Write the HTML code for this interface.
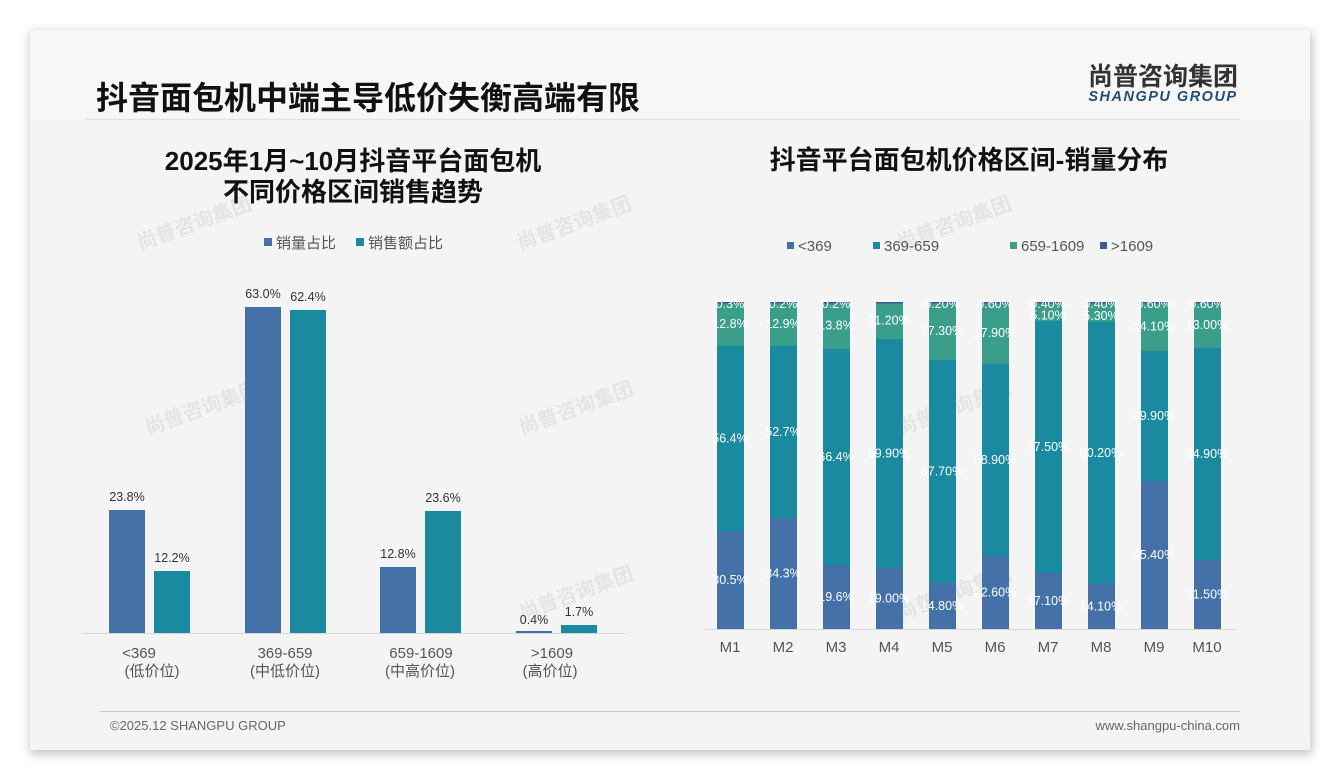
<!DOCTYPE html>
<html><head><meta charset="utf-8"><style>
body{margin:0;background:#fff;width:1340px;height:780px;overflow:hidden}
svg{display:block}
text{font-family:"Liberation Sans","Noto Sans CJK SC",sans-serif}
</style></head><body>
<svg width="1340" height="780" viewBox="0 0 1340 780" xmlns="http://www.w3.org/2000/svg">
<defs><filter id="sh" x="-5%" y="-5%" width="110%" height="110%"><feGaussianBlur stdDeviation="5"/></filter></defs>
<rect x="30" y="32" width="1282" height="722" fill="#999" opacity="0.6" filter="url(#sh)"/>
<rect x="30" y="30" width="1280" height="720" fill="#f4f4f4"/>
<rect x="30" y="30" width="1280" height="90" fill="#f7f7f7"/>
<line x1="85" y1="119.5" x2="1240" y2="119.5" stroke="#e2e2e2" stroke-width="1.5"/>
<text x="96" y="109" font-size="32" font-weight="bold" fill="#111">抖音面包机中端主导低价失衡高端有限</text>
<text x="1163" y="85" font-size="25" font-weight="bold" fill="#333" text-anchor="middle">尚普咨询集团</text>
<text x="1163" y="101" font-size="14.5" font-weight="bold" font-style="italic" fill="#1f4e79" text-anchor="middle" letter-spacing="1.5">SHANGPU GROUP</text>

<g fill="#e4e4e4" font-size="20" font-weight="bold">
<text transform="translate(140,250) rotate(-20)">尚普咨询集团</text>
<text transform="translate(520,250) rotate(-20)">尚普咨询集团</text>
<text transform="translate(900,250) rotate(-20)">尚普咨询集团</text>
<text transform="translate(148,435) rotate(-20)">尚普咨询集团</text>
<text transform="translate(522,435) rotate(-20)">尚普咨询集团</text>
<text transform="translate(900,435) rotate(-20)">尚普咨询集团</text>
<text transform="translate(522,620) rotate(-20)">尚普咨询集团</text>
<text transform="translate(900,620) rotate(-20)">尚普咨询集团</text>
</g>

<text x="353" y="170" font-size="26" font-weight="bold" fill="#111" text-anchor="middle">2025年1月~10月抖音平台面包机</text>
<text x="353" y="201" font-size="26" font-weight="bold" fill="#111" text-anchor="middle">不同价格区间销售趋势</text>
<rect x="264" y="238" width="8" height="8" fill="#4472a8"/>
<text x="276" y="248" font-size="15" fill="#555">销量占比</text>
<rect x="356" y="238" width="8" height="8" fill="#1a8aa0"/>
<text x="368" y="248" font-size="15" fill="#555">销售额占比</text>

<line x1="82" y1="633.5" x2="625" y2="633.5" stroke="#d6d6d6"/>
<g fill="#4472a8">
<rect x="109" y="510" width="36" height="123"/>
<rect x="245" y="307" width="36" height="326"/>
<rect x="380" y="567" width="36" height="66"/>
<rect x="516" y="631" width="36" height="2"/>
</g>
<g fill="#1a8aa0">
<rect x="154" y="571" width="36" height="62"/>
<rect x="290" y="310" width="36" height="323"/>
<rect x="425" y="511" width="36" height="122"/>
<rect x="561" y="625" width="36" height="8"/>
</g>
<g font-size="12.5" fill="#333" text-anchor="middle">
<text x="127" y="501">23.8%</text><text x="172" y="562">12.2%</text>
<text x="263" y="298">63.0%</text><text x="308" y="301">62.4%</text>
<text x="398" y="558">12.8%</text><text x="443" y="502">23.6%</text>
<text x="534" y="624">0.4%</text><text x="579" y="616">1.7%</text>
</g>
<g font-size="15" fill="#555" text-anchor="middle">
<text x="139" y="658">&lt;369</text><text x="152" y="676">(低价位)</text>
<text x="285" y="658">369-659</text><text x="285" y="676">(中低价位)</text>
<text x="421" y="658">659-1609</text><text x="420" y="676">(中高价位)</text>
<text x="552" y="658">&gt;1609</text><text x="550" y="676">(高价位)</text>
</g>

<text x="969" y="169" font-size="26" font-weight="bold" fill="#111" text-anchor="middle">抖音平台面包机价格区间-销量分布</text>
<g font-size="15" fill="#555">
<rect x="787" y="242" width="7" height="7" fill="#4472a8"/><text x="798" y="251">&lt;369</text>
<rect x="873" y="242" width="7" height="7" fill="#1a8aa0"/><text x="884" y="251">369-659</text>
<rect x="1010" y="242" width="7" height="7" fill="#3a9e8a"/><text x="1021" y="251">659-1609</text>
<rect x="1100" y="242" width="7" height="7" fill="#3b5a9a"/><text x="1111" y="251">&gt;1609</text>
</g>
<line x1="705" y1="629.5" x2="1237" y2="629.5" stroke="#d6d6d6"/>
<g id="bars"></g>
<g font-size="15" fill="#555" text-anchor="middle" id="mx"></g>

<line x1="100" y1="711.5" x2="1240" y2="711.5" stroke="#b8cde0"/>
<text x="110" y="730" font-size="13" fill="#666">©2025.12 SHANGPU GROUP</text>
<text x="1240" y="730" font-size="13" fill="#666" text-anchor="end">www.shangpu-china.com</text>
</svg>
<script>
var d=[[346,531,"0.3%","12.8%","56.4%","30.5%"],[346,518,"0.2%","12.9%","52.7%","34.3%"],[349,565,"0.2%","13.8%","66.4%","19.6%"],[339,568,"","11.20%","69.90%","19.00%"],[360,583,"0.20%","17.30%","67.70%","14.80%"],[364,556,"0.60%","17.90%","58.90%","22.60%"],[321,573,"0.40%","5.10%","77.50%","17.10%"],[322,584,"0.40%","5.30%","80.20%","14.10%"],[351,481,"0.60%","14.10%","39.90%","45.40%"],[348,560,"0.60%","13.00%","64.90%","21.50%"]];
var ns="http://www.w3.org/2000/svg",g=document.getElementById("bars"),mx=document.getElementById("mx");
function el(p,t,a,tx){var e=document.createElementNS(ns,t);for(var k in a)e.setAttribute(k,a[k]);if(tx!=null)e.textContent=tx;p.appendChild(e);return e;}
d.forEach(function(r,i){var c=730+53*i,x=c-13,w=27;
el(g,"rect",{x:x,y:302,width:w,height:r[0]-302,fill:"#3a9e8a"});
el(g,"rect",{x:x,y:302,width:w,height:1.5,fill:"#3b5a9a"});
el(g,"rect",{x:x,y:r[0],width:w,height:r[1]-r[0],fill:"#1a8aa0"});
el(g,"rect",{x:x,y:r[1],width:w,height:629-r[1],fill:"#4472a8"});
var lt=el(g,"g",{"font-size":"12.5",fill:"#fff","text-anchor":"middle"});
if(r[2])el(lt,"text",{x:c,y:308},r[2]);
el(lt,"text",{x:c,y:(302+r[0])/2+(r[0]-302<25?8:4)},r[3]);
el(lt,"text",{x:c,y:(r[0]+r[1])/2+4},r[4]);
el(lt,"text",{x:c,y:(r[1]+629)/2+4},r[5]);
el(mx,"text",{x:c,y:652},"M"+(i+1));});
</script>
</body></html>
